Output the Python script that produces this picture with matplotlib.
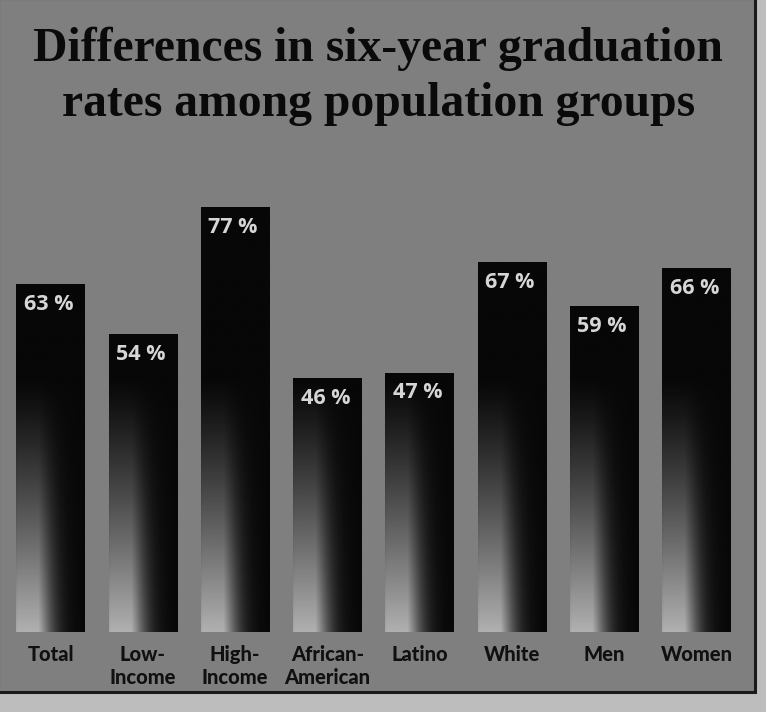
import matplotlib.pyplot as plt
import numpy as np
from matplotlib.patches import Rectangle

groups = ["Total", "Low-\nIncome", "High-\nIncome", "African-\nAmerican",
          "Latino", "White", "Men", "Women"]
rates = [63, 54, 77, 46, 47, 67, 59, 66]

title = "Differences in six-year graduation\nrates among population groups"

bg = "#7f7f7f"
fig = plt.figure(figsize=(7.66, 7.12), dpi=100)
fig.patch.set_facecolor("#bdbdbd")

# background panel with dark frame, drawn on its own axes behind the bars
back = fig.add_axes([0, 0, 1, 1], zorder=0)
back.set_xlim(0, 766)
back.set_ylim(712, 0)
back.axis("off")
back.add_patch(Rectangle((-2, -2), 757, 694, facecolor=bg, edgecolor="#1a1a1a", lw=2.2))

ax = fig.add_axes([4.4 / 766, 80 / 712, 738.2 / 766, 552 / 712], zorder=1)
ax.set_facecolor("none")
ax.axis("off")

width = 0.74
bars = ax.bar(range(len(rates)), rates, width=width, color="none", edgecolor="none")

# gradient fill: black at top, lighter towards bottom-left
nx, ny = 60, 200
for b, r in zip(bars, rates):
    x0 = b.get_x()
    u = np.linspace(0, 1, nx)
    y = np.linspace(0, r, ny)
    U, Y = np.meshgrid(u, y)
    vert = np.clip((46 - Y) / 46, 0, 1) ** 1.2
    horiz = np.clip(0.95 * np.exp(-((U - 0.2) / 0.3) ** 2) + 0.35 * (1 - U) ** 1.5, 0, 1)
    img = 0.03 + 0.66 * vert * horiz
    im = ax.imshow(img, origin="lower", cmap="gray", vmin=0, vmax=1,
                   extent=[x0, x0 + width, 0, r], aspect="auto", zorder=2,
                   interpolation="bilinear")
    im.set_clip_path(b)
    ax.text(x0 + 0.08, r - 1.8, f"{r} %", color="#d6d6d6", fontsize=15.5,
            fontweight="bold", family="Open Sans", va="top", ha="left", zorder=3)

for i, g in enumerate(groups):
    ax.text(i, -2.3, g, ha="center", va="top", fontsize=14.5, color="#101010",
            fontweight="black", family="Lato", linespacing=1.25)

ax.set_xlim(-0.5, 7.5)
ax.set_ylim(0, 100)

fig.text(0.494, 0.962, title, ha="center", va="top", fontsize=34.3,
         family="Liberation Serif", fontweight="bold", color="#0a0a0a",
         linespacing=1.32, zorder=3)

fig.savefig("out.png", dpi=100, facecolor=fig.get_facecolor())
